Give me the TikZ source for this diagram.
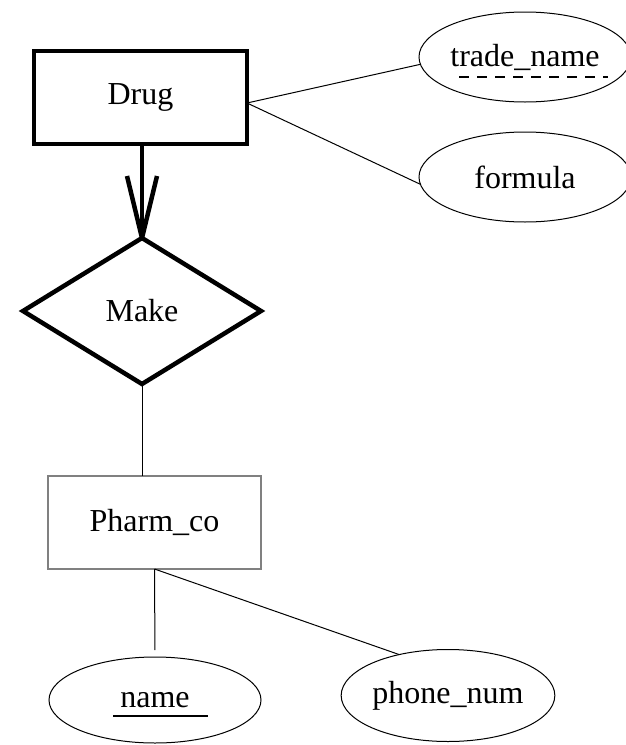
\documentclass[tikz,border=0pt]{standalone}
\usepackage{fontspec}
\setmainfont{Liberation Serif}
\usetikzlibrary{shapes.geometric}
\begin{document}
\begin{tikzpicture}[x=1pt,y=-1pt,
  every node/.style={font=\fontsize{32}{38}\selectfont, inner sep=0pt, outer sep=0pt},
  strongent/.style={draw, line width=4.5pt, minimum width=213pt, minimum height=93pt},
  ent/.style={draw=gray, line width=1.5pt, minimum width=213pt, minimum height=93pt},
  attr/.style={draw, ellipse, line width=1pt, minimum width=212pt, minimum height=90pt},
  rel/.style={draw, diamond, line width=4.5pt, aspect=1.63, minimum width=238pt, minimum height=146pt},
  thinline/.style={line width=1pt},
  heavy/.style={line width=4.5pt}]
\useasboundingbox (0,0) rectangle (626,745);

\node[strongent] (drug) at (140.5,97.5) {Drug};
\node[attr] (tn) at (525,57) {trade\_name};
\node[attr] (fm) at (525,177) {formula};
\node[rel] (make) at (142,311) {Make};
\node[ent] (ph) at (154.5,522.5) {Pharm\_co};
\node[attr, minimum height=86pt] (nm) at (155,700) {name};
\node[attr, minimum height=92pt] (pn) at (448,695.5) {phone\_num};

% attribute links of Drug
\draw[thinline] ([yshift=-5.5pt]drug.east) -- (tn.184);
\draw[thinline] ([yshift=-5.5pt]drug.east) -- (fm.184);

% Drug -> Make (arrow)
\draw[heavy] (drug.south -| make.north) -- (make.north);
\draw[heavy] (make.north) -- ++(-15,-62);
\draw[heavy] (make.north) -- ++(15,-62);

% Make -- Pharm_co
\draw[thinline] (make.south) -- (make.south |- ph.north);

% Pharm_co attributes
\draw[thinline, shorten >=7pt] (ph.south) -- (nm.north);
\draw[thinline] (ph.south) -- (pn.140);

% key underlines
\draw[line width=1.3pt, dash pattern=on 10pt off 8pt] ([xshift=-66pt,yshift=-20pt]tn.center) -- ([xshift=83pt,yshift=-20pt]tn.center);
\draw[line width=1.5pt] ([xshift=-42pt,yshift=-16pt]nm.center) -- ([xshift=53pt,yshift=-16pt]nm.center);
\end{tikzpicture}
\end{document}
